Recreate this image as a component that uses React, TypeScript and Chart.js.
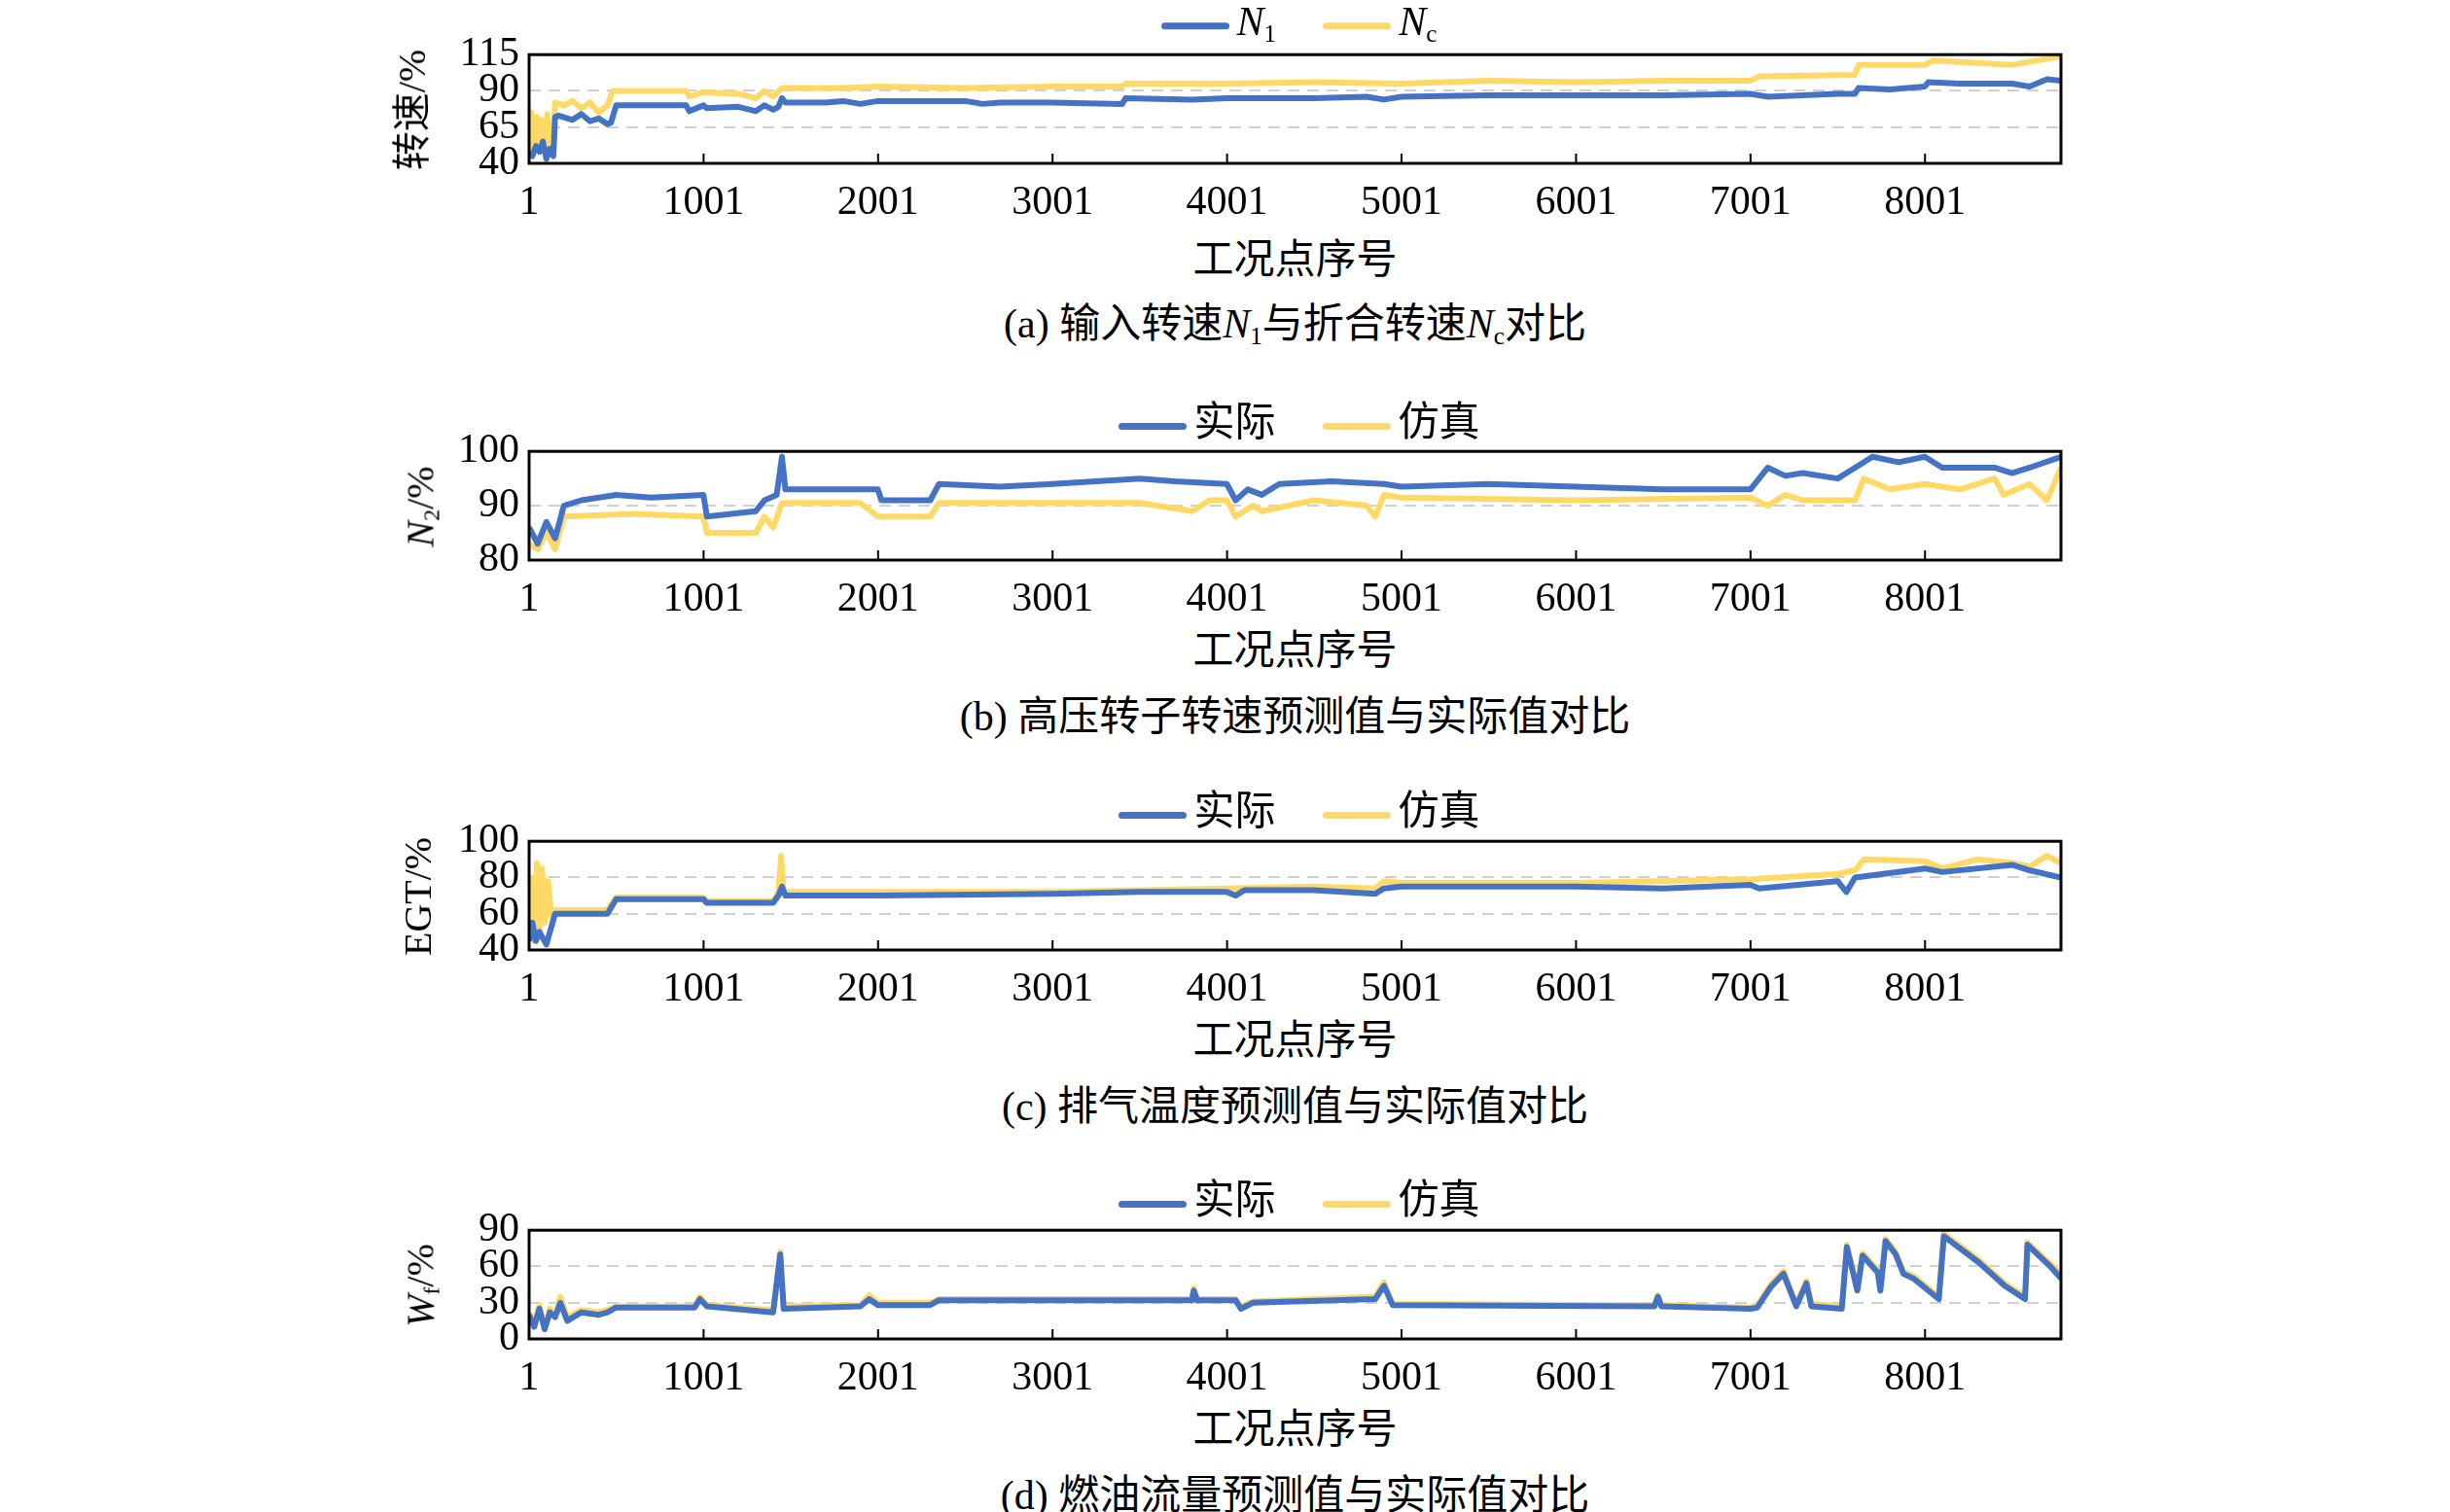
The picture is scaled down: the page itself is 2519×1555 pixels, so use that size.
import React, { useEffect, useRef } from 'react';
import { Chart, registerables } from 'chart.js';

Chart.register(...registerables);

const BLUE = '#4472C4';
const YELLOW = '#FFD966';
const FONT = '"Liberation Serif", "Times New Roman", Times, "DejaVu Serif", "Noto Sans CJK SC", serif';

const xTicks = [1, 1001, 2001, 3001, 4001, 5001, 6001, 7001, 8001];
const X_MAX = 8780;

// (a) 转速
const n1A: [number, number][] = [[1,47],[20,45],[40,52],[60,48],[80,55],[100,43],[120,50],[140,45],[150,72],[170,73],[250,70],[300,74],[350,69],[400,71],[450,67],[470,68],[500,80],[900,80],[920,76],[1000,80],[1020,78],[1200,79],[1300,76],[1350,80],[1400,77],[1430,79],[1450,85],[1470,82],[1700,82],[1800,83],[1900,81],[2000,83],[2500,83],[2600,81],[2700,82],[3000,82],[3400,81],[3420,85],[3800,84],[4000,85],[4500,85],[4800,86],[4900,84],[5000,86],[5500,87],[6000,87],[6500,87],[7000,88],[7100,86],[7500,88],[7600,88],[7620,92],[7800,91],[8000,93],[8020,96],[8200,95],[8500,95],[8600,93],[8700,98],[8780,97]];
const ncA: [number, number][] = [[1,45],[15,75],[30,50],[45,72],[60,48],[75,70],[90,55],[105,74],[120,48],[140,60],[150,82],[200,80],[250,83],[300,78],[350,82],[400,75],[450,80],[480,90],[900,90],[920,86],[1000,89],[1200,88],[1300,85],[1350,90],[1400,86],[1450,92],[1800,92],[2000,93],[2500,92],[3000,93],[3400,93],[3420,95],[4000,95],[4500,96],[5000,95],[5500,97],[6000,96],[6500,97],[7000,97],[7050,100],[7600,101],[7620,108],[8000,108],[8050,111],[8500,108],[8600,110],[8780,114]];

// (b) N2
const realB: [number, number][] = [[1,86],[50,83],[100,87],[150,84],[200,90],[300,91],[500,92],[700,91.5],[1000,92],[1020,88],[1300,89],[1350,91],[1420,92],[1450,99],[1470,93],[2000,93],[2020,91],[2300,91],[2350,94],[2700,93.5],[3000,94],[3500,95],[3700,94.5],[4000,94],[4050,91],[4120,93],[4200,92],[4300,94],[4600,94.5],[4900,94],[5000,93.5],[5500,94],[6000,93.5],[6500,93],[7000,93],[7050,95],[7100,97],[7200,95.5],[7300,96],[7500,95],[7600,97],[7700,99],[7850,98],[8000,99],[8100,97],[8400,97],[8500,96],[8600,97],[8780,99]];
const simB: [number, number][] = [[1,83],[50,82],[100,85],[150,82],[200,88],[600,88.5],[1000,88],[1020,85],[1300,85],[1350,88],[1400,86],[1450,90.5],[1900,90.5],[2000,88],[2300,88],[2350,90.5],[3500,90.5],[3800,89],[3900,91],[4000,91],[4050,88],[4150,90],[4200,89],[4500,91],[4800,90],[4850,88],[4900,92],[5000,91.5],[6000,91],[7000,91.5],[7100,90],[7200,92],[7300,91],[7600,91],[7650,95],[7800,93],[8000,94],[8200,93],[8400,95],[8450,92],[8600,94],[8700,91],[8780,97]];

// (c) EGT
const realC: [number, number][] = [[1,45],[20,55],[40,45],[60,50],[100,43],[150,60],[450,60],[500,68],[1000,68],[1020,66],[1400,66],[1430,70],[1450,75],[1470,70],[2000,70],[3000,71],[3500,72],[4000,72],[4050,70],[4100,73],[4500,73],[4850,71],[4900,74],[5000,75],[6000,75],[6500,74],[7000,76],[7050,74],[7500,78],[7550,72],[7600,80],[8000,85],[8100,83],[8500,87],[8600,84],[8780,80]];
const simC: [number, number][] = [[1,50],[15,80],[30,45],[45,88],[60,50],[75,85],[90,55],[110,78],[130,58],[150,62],[450,62],[500,69],[1000,69],[1020,67],[1400,67],[1430,72],[1445,92],[1460,72],[2000,72],[3000,72],[3500,73],[4000,74],[4500,75],[4850,74],[4900,78],[5000,77],[6000,77],[7000,79],[7500,82],[7600,84],[7650,90],[8000,89],[8100,85],[8300,90],[8500,88],[8600,86],[8700,92],[8780,88]];

// (d) Wf
const realD: [number, number][] = [[1,20],[30,10],[60,25],[90,8],[120,22],[150,18],[180,30],[220,15],[300,22],[400,20],[450,22],[500,26],[950,26],[980,33],[1020,27],[1400,22],[1440,70],[1460,25],[1900,27],[1950,33],[2000,28],[2300,28],[2350,32],[3800,32],[3810,40],[3830,32],[4050,32],[4080,25],[4150,30],[4850,33],[4900,44],[4950,28],[6450,27],[6470,35],[6490,27],[7000,25],[7040,26],[7117,43],[7190,54],[7263,27],[7321,46],[7350,27],[7524,25],[7553,76],[7613,40],[7643,69],[7730,55],[7745,40],[7775,81],[7833,70],[7877,54],[7935,50],[8080,33],[8109,85],[8312,63],[8457,44],[8574,33],[8588,78],[8719,60],[8780,50]];
const simD: [number, number][] = [[1,22],[30,12],[60,28],[90,10],[120,25],[150,20],[180,35],[220,18],[300,24],[400,22],[450,24],[500,27],[950,27],[980,35],[1020,28],[1400,24],[1440,72],[1460,27],[1900,28],[1950,36],[2000,30],[2300,30],[2350,33],[3800,33],[3810,42],[3830,33],[4050,33],[4080,27],[4150,31],[4850,35],[4900,47],[4950,29],[6450,28],[6470,36],[6490,28],[7000,26],[7040,28],[7117,45],[7190,56],[7263,29],[7321,48],[7350,29],[7524,27],[7553,78],[7613,42],[7643,71],[7730,57],[7745,42],[7775,83],[7833,72],[7877,56],[7935,52],[8080,35],[8109,87],[8312,65],[8457,46],[8574,35],[8588,80],[8719,62],[8780,53]];

const PLOT_L = 544;
const PLOT_R = 2119;
const CX = (PLOT_L + PLOT_R) / 2;
const PAD_TOP = 25;
const TOP_OFF = 36;
const X_AXIS_H = 62;

const framePlugin = {
  id: 'frame',
  afterDraw(chart: any) {
    const { ctx, chartArea: a, scales } = chart;
    ctx.save();
    ctx.strokeStyle = '#000';
    ctx.lineWidth = 3;
    ctx.strokeRect(a.left, a.top, a.right - a.left, a.bottom - a.top);
    ctx.lineWidth = 2;
    xTicks.slice(1).forEach((v) => {
      const px = scales.x.getPixelForValue(v);
      ctx.beginPath();
      ctx.moveTo(px, a.bottom);
      ctx.lineTo(px, a.bottom - 10);
      ctx.stroke();
    });
    ctx.restore();
  },
};

interface PanelProps {
  top: number;
  height: number;
  yMin: number;
  yMax: number;
  yTicks: number[];
  blue: [number, number][];
  yellow: [number, number][];
}

const PanelChart: React.FC<PanelProps> = ({ top, height, yMin, yMax, yTicks, blue, yellow }) => {
  const ref = useRef<HTMLCanvasElement>(null);
  const h = height + TOP_OFF + X_AXIS_H;

  useEffect(() => {
    if (!ref.current) return;
    const mk = (d: [number, number][], c: string) => ({
      data: d.map(([x, y]) => ({ x, y })),
      borderColor: c,
      backgroundColor: c,
      borderWidth: 6,
      pointRadius: 0,
      tension: 0,
      borderJoinStyle: 'round' as const,
    });
    const chart = new Chart(ref.current, {
      type: 'line',
      data: { datasets: [mk(blue, BLUE), mk(yellow, YELLOW)] },
      options: {
        animation: false,
        responsive: false,
        devicePixelRatio: 1,
        layout: { padding: { left: 400, right: 2519 - PLOT_R, top: PAD_TOP, bottom: 0 } },
        plugins: { legend: { display: false }, tooltip: { enabled: false } },
        scales: {
          x: {
            type: 'linear',
            min: 1,
            max: X_MAX,
            afterBuildTicks: (s: any) => { s.ticks = xTicks.map((v) => ({ value: v })); },
            afterFit: (s: any) => { s.height = X_AXIS_H; },
            grid: { display: false },
            border: { display: false },
            ticks: { color: '#000', font: { family: FONT, size: 42 }, padding: 8, maxRotation: 0, autoSkip: false, callback: (v: any) => String(v) },
          },
          y: {
            min: yMin,
            max: yMax,
            afterBuildTicks: (s: any) => { s.ticks = yTicks.map((v) => ({ value: v })); },
            afterFit: (s: any) => { s.width = PLOT_L - 400; },
            grid: {
              color: (c: any) => (c.tick && c.tick.value !== yMin && c.tick.value !== yMax ? '#d0d0d0' : 'transparent'),
              lineWidth: 2,
              drawTicks: false,
            },
            border: { display: false, dash: [12, 8] },
            ticks: { color: '#000', font: { family: FONT, size: 42 }, padding: 10, autoSkip: false },
          },
        },
      },
      plugins: [framePlugin],
    });
    return () => chart.destroy();
  }, []);

  return (
    <canvas
      ref={ref}
      width={2519}
      height={h}
      style={{ position: 'absolute', left: 0, top: top - TOP_OFF, width: 2519, height: h }}
    />
  );
};

const txt = (y: number, x: number, content: React.ReactNode, size = 42) => (
  <div
    style={{
      position: 'absolute', left: x, top: y, transform: 'translate(-50%, -50%)',
      fontFamily: FONT, fontSize: size, whiteSpace: 'nowrap', color: '#000', lineHeight: 1,
    }}
  >
    {content}
  </div>
);

const ytitle = (y: number, x: number, content: React.ReactNode) => (
  <div
    style={{
      position: 'absolute', left: x, top: y, transform: 'translate(-50%, -50%) rotate(-90deg)',
      fontFamily: FONT, fontSize: 40, whiteSpace: 'nowrap', color: '#000', lineHeight: 1,
    }}
  >
    {content}
  </div>
);

const Sw: React.FC<{ c: string }> = ({ c }) => (
  <span style={{ display: 'inline-block', width: 70, height: 7, background: c, borderRadius: 4, verticalAlign: 'middle', margin: '0 8px' }} />
);

const legend = (y: number, a: React.ReactNode, b: React.ReactNode) =>
  txt(y, CX, (
    <span>
      <Sw c={BLUE} />{a}<span style={{ display: 'inline-block', width: 40 }} /><Sw c={YELLOW} />{b}
    </span>
  ));

const I: React.FC<{ children: React.ReactNode }> = ({ children }) => <i>{children}</i>;
const S: React.FC<{ children: React.ReactNode }> = ({ children }) => (
  <sub style={{ fontSize: '0.6em', verticalAlign: '-0.25em' }}>{children}</sub>
);

const panels = [
  { top: 57, yMin: 40, yMax: 115, yTicks: [40, 65, 90, 115], blue: n1A, yellow: ncA },
  { top: 465, yMin: 80, yMax: 100, yTicks: [80, 90, 100], blue: realB, yellow: simB },
  { top: 866, yMin: 40, yMax: 100, yTicks: [40, 60, 80, 100], blue: realC, yellow: simC },
  { top: 1266, yMin: 0, yMax: 90, yTicks: [0, 30, 60, 90], blue: realD, yellow: simD },
];
const PLOT_H = 111;

export default function App() {
  return (
    <div style={{ position: 'absolute', left: 0, top: 0, width: 2519, height: 1555, background: '#fff', overflow: 'hidden' }}>
      {panels.map((p, i) => (
        <PanelChart key={i} top={p.top} height={PLOT_H} yMin={p.yMin} yMax={p.yMax} yTicks={p.yTicks} blue={p.blue} yellow={p.yellow} />
      ))}
      {legend(24, <span><I>N</I><S>1</S></span>, <span><I>N</I><S>c</S></span>)}
      {legend(434, '实际', '仿真')}
      {legend(834, '实际', '仿真')}
      {legend(1234, '实际', '仿真')}

      {ytitle(57 + PLOT_H / 2, 424, '转速/%')}
      {ytitle(465 + PLOT_H / 2, 434, <span><I>N</I><S>2</S>/%</span>)}
      {ytitle(866 + PLOT_H / 2, 430, 'EGT/%')}
      {ytitle(1266 + PLOT_H / 2, 434, <span><I>W</I><S>f</S>/%</span>)}

      {[267, 669, 1070, 1470].map((y) => <React.Fragment key={y}>{txt(y, CX, '工况点序号')}</React.Fragment>)}

      {txt(335, CX, <span>(a) 输入转速<I>N</I><S>1</S>与折合转速<I>N</I><S>c</S>对比</span>)}
      {txt(737, CX, '(b) 高压转子转速预测值与实际值对比')}
      {txt(1138, CX, '(c) 排气温度预测值与实际值对比')}
      {txt(1538, CX, '(d) 燃油流量预测值与实际值对比')}
    </div>
  );
}
